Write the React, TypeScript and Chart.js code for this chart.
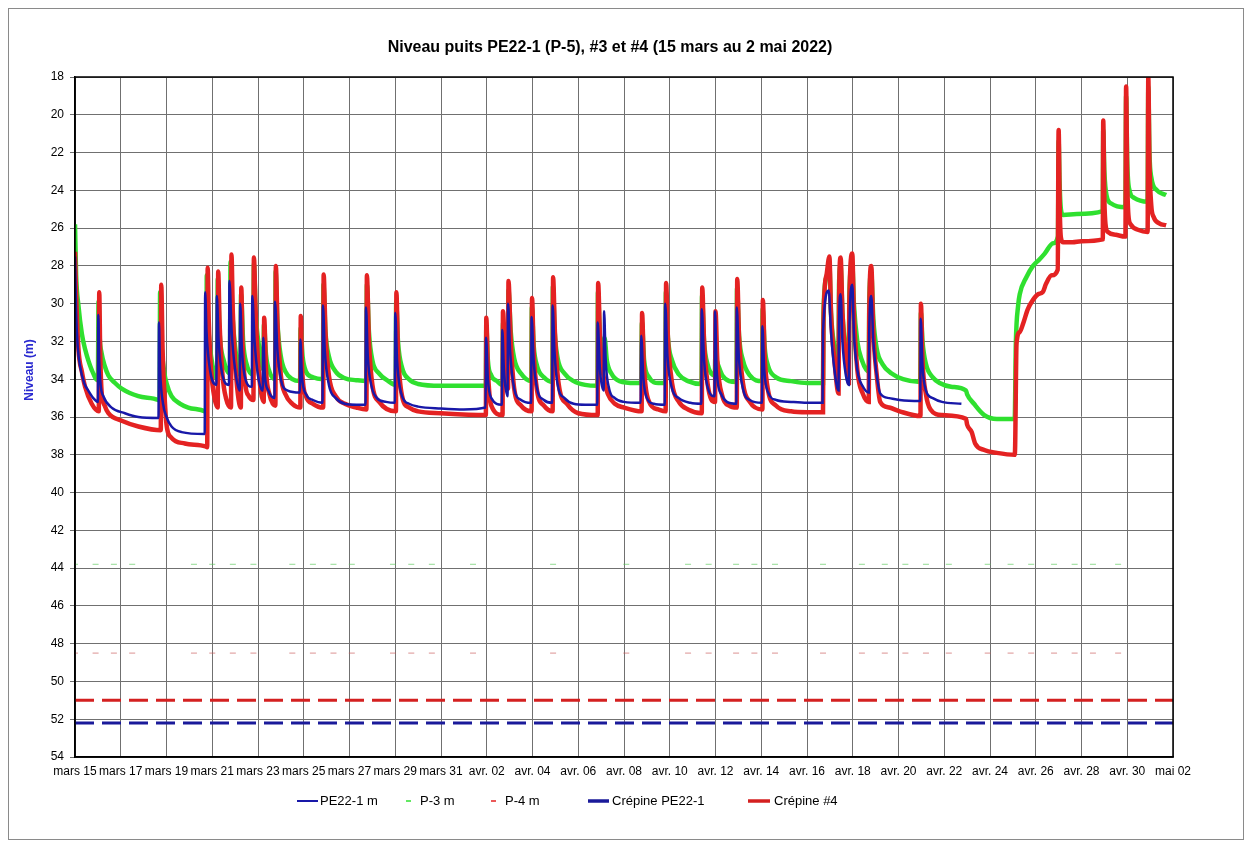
import React, { useEffect, useRef } from "react";
import { Chart, registerables } from "chart.js";

Chart.register(...registerables);

const TITLE = "Niveau puits PE22-1 (P-5), #3 et #4 (15 mars au 2 mai 2022)";
const Y_TITLE = "Niveau (m)";

// x = days since 15 March 2022 00:00
const X_TICK_LABELS = [
  "mars 15", "mars 17", "mars 19", "mars 21", "mars 23", "mars 25", "mars 27", "mars 29", "mars 31",
  "avr. 02", "avr. 04", "avr. 06", "avr. 08", "avr. 10", "avr. 12", "avr. 14", "avr. 16", "avr. 18",
  "avr. 20", "avr. 22", "avr. 24", "avr. 26", "avr. 28", "avr. 30", "mai 02",
];

const PE22_1: [number, number][] = [
  [0,27.5],[0.05,30.5],[0.12,32.3],[0.22,33.3],[0.4,34.2],[0.58,34.6],[0.8,35.0],[1.0,35.2],
  [1.02,30.6],[1.06,33.0],[1.12,34.3],[1.24,34.9],[1.6,35.5],[2.18,35.8],[2.77,36.0],[3.65,36.05],
  [3.67,31.0],[3.72,33.5],[3.85,35.3],[4.0,36.0],[4.22,36.5],[4.66,36.8],[5.67,36.9],
  [5.69,29.4],[5.75,31.5],[5.9,33.5],[6.18,34.3],
  [6.2,29.6],[6.28,32.0],[6.45,33.8],[6.73,34.3],
  [6.75,28.8],[6.85,31.5],[7.0,33.5],[7.2,34.6],
  [7.22,30.0],[7.3,32.5],[7.45,34.0],[7.73,34.4],
  [7.75,29.6],[7.85,32.0],[8.0,33.8],[8.21,34.6],
  [8.23,31.8],[8.3,33.8],[8.45,34.6],[8.72,35.0],
  [8.74,29.9],[8.85,32.5],[9.0,34.0],[9.3,34.6],[9.83,34.7],
  [9.85,31.9],[9.92,33.8],[10.1,34.8],[10.4,35.1],[10.82,35.25],
  [10.84,30.1],[10.92,32.5],[11.1,34.3],[11.4,35.0],[11.8,35.3],[12.3,35.35],[12.7,35.35],
  [12.72,30.2],[12.8,32.8],[12.95,34.3],[13.2,35.0],[13.6,35.2],[13.98,35.25],
  [14.0,30.5],[14.08,33.0],[14.3,34.9],[14.6,35.3],[15.0,35.45],[16.0,35.55],[17.0,35.6],[17.95,35.5],
  [17.97,31.8],[18.05,34.0],[18.2,35.0],[18.66,35.35],
  [18.68,31.4],[18.75,33.5],[18.91,34.9],
  [18.93,30.0],[19.02,32.5],[19.2,34.5],[19.5,35.1],[19.94,35.25],
  [19.96,30.7],[20.05,33.0],[20.2,34.5],[20.5,35.1],[20.86,35.25],
  [20.88,30.1],[20.96,32.5],[21.1,34.3],[21.4,35.0],[21.8,35.3],[22.3,35.35],[22.83,35.35],
  [22.85,31.0],[22.95,33.5],[23.11,34.6],
  [23.13,30.4],[23.2,33.0],[23.35,34.5],[23.6,35.0],[24.0,35.2],[24.73,35.25],
  [24.75,31.7],[24.85,34.0],[25.0,35.0],[25.3,35.3],[25.78,35.35],
  [25.8,30.0],[25.9,32.8],[26.1,34.5],[26.4,35.0],[26.9,35.25],[27.38,35.3],
  [27.4,30.3],[27.5,33.0],[27.7,34.6],[27.96,34.9],
  [27.98,30.4],[28.05,33.5],[28.25,34.8],[28.5,35.2],[28.91,35.3],
  [28.93,30.2],[29.02,32.8],[29.2,34.5],[29.5,35.1],[30.03,35.25],
  [30.05,31.2],[30.13,33.5],[30.3,34.7],[30.65,35.1],[31.3,35.2],[32.0,35.25],[32.68,35.25],
  [32.7,31.5],[32.95,29.3],[33.05,31.5],[33.2,33.5],[33.38,34.6],
  [33.4,31.0],[33.47,29.5],[33.55,32.0],[33.7,33.8],[33.83,34.3],
  [33.85,31.5],[33.98,29.0],[34.05,31.5],[34.2,33.5],[34.45,34.4],[34.7,34.7],
  [34.72,31.5],[34.81,29.6],[34.9,32.0],[35.05,33.8],[35.2,34.75],[35.6,35.0],[36.05,35.1],[36.95,35.15],
  [36.97,30.8],[37.05,33.3],[37.2,34.6],[37.5,35.0],[37.9,35.2],[38.75,35.3],
];

const P3: [number, number][] = [
  [0,25.8],[0.05,28.5],[0.15,30.1],[0.3,31.6],[0.44,32.4],[0.73,33.5],[1.0,34.05],
  [1.03,29.9],[1.08,31.8],[1.16,32.6],[1.3,33.3],[1.46,33.8],[1.75,34.2],[2.04,34.5],[2.77,34.9],[3.64,35.1],[3.7,35.15],
  [3.72,29.4],[3.78,32.0],[3.9,33.6],[4.0,34.2],[4.22,34.9],[4.6,35.3],[4.95,35.5],[5.68,35.7],[5.74,35.75],
  [5.76,28.5],[5.82,31.0],[5.95,32.8],[6.1,33.7],[6.22,34.0],
  [6.24,28.7],[6.32,31.5],[6.5,33.0],[6.77,33.7],
  [6.8,27.8],[6.88,30.5],[7.0,32.3],[7.23,33.8],
  [7.26,29.5],[7.35,32.0],[7.5,33.2],[7.79,33.75],
  [7.82,27.9],[7.9,30.5],[8.05,32.3],[8.24,33.5],
  [8.26,31.1],[8.35,32.7],[8.5,33.6],[8.75,34.0],
  [8.77,28.3],[8.85,31.0],[9.0,32.8],[9.2,33.6],[9.5,34.0],[9.84,34.1],
  [9.86,31.3],[9.95,32.8],[10.1,33.6],[10.4,33.9],[10.84,34.0],
  [10.86,29.0],[10.95,31.5],[11.1,32.8],[11.4,33.6],[11.8,33.95],[12.3,34.05],[12.74,34.1],
  [12.76,29.0],[12.85,31.5],[13.0,33.0],[13.3,33.7],[13.7,34.1],[14.02,34.3],
  [14.04,29.9],[14.12,32.0],[14.3,33.4],[14.6,34.0],[15.0,34.25],[16.0,34.35],[17.0,34.35],[17.96,34.35],
  [17.98,31.2],[18.05,33.0],[18.2,33.8],[18.45,34.1],[18.69,34.3],
  [18.71,31.0],[18.8,32.8],[18.93,33.5],
  [18.95,29.3],[19.05,31.5],[19.2,32.9],[19.5,33.7],[19.95,34.1],
  [19.97,30.2],[20.05,32.2],[20.2,33.3],[20.5,33.9],[20.87,34.15],
  [20.89,29.1],[20.97,31.5],[21.1,32.9],[21.4,33.7],[21.8,34.1],[22.3,34.3],[22.84,34.35],
  [22.86,29.4],[22.95,31.8],[23.12,32.9],[23.15,31.8],[23.25,33.0],[23.45,33.7],[23.8,34.1],[24.5,34.2],[24.76,34.2],
  [24.78,31.0],[24.88,33.0],[25.1,33.9],[25.5,34.2],[25.81,34.2],
  [25.83,29.4],[25.92,31.8],[26.1,33.0],[26.4,33.75],[26.8,34.1],[27.39,34.25],
  [27.41,29.6],[27.5,32.0],[27.65,33.2],[27.97,33.8],
  [27.99,32.8],[28.1,33.2],[28.3,33.8],[28.6,34.1],[28.92,34.15],
  [28.94,29.2],[29.03,31.7],[29.2,33.0],[29.5,33.8],[30.04,34.1],
  [30.06,30.3],[30.15,32.3],[30.3,33.3],[30.65,33.9],[31.3,34.1],[32.0,34.2],[32.7,34.2],
  [32.72,30.5],[32.85,28.6],[32.98,28.0],[33.05,30.5],[33.2,32.3],[33.38,33.3],
  [33.4,29.0],[33.47,28.0],[33.55,30.5],[33.7,32.4],[33.83,32.8],
  [33.85,29.5],[33.98,27.9],[34.05,30.0],[34.2,32.0],[34.4,33.0],[34.7,33.6],
  [34.72,30.0],[34.81,28.4],[34.9,30.8],[35.05,32.4],[35.3,33.2],[35.7,33.7],[36.2,34.0],[36.95,34.15],
  [36.98,30.5],[37.05,32.0],[37.2,33.2],[37.5,33.9],[37.8,34.2],[38.3,34.4],[38.95,34.6],
  [39.0,34.8],[39.3,35.3],[39.75,35.9],[40.3,36.1],[41.08,36.1],
  [41.13,32.1],[41.23,30.1],[41.3,29.5],[41.59,28.6],[41.88,28.0],[42.17,27.65],[42.39,27.35],[42.76,26.8],[42.97,26.45],
  [43.0,21.4],[43.04,23.5],[43.1,25.0],[43.2,25.3],[43.8,25.25],[44.93,25.1],
  [44.95,20.8],[45.0,23.0],[45.1,24.3],[45.3,24.7],[45.92,24.9],
  [45.95,19.0],[46.0,22.5],[46.1,24.0],[46.3,24.4],[46.89,24.6],
  [46.92,18.5],[46.97,22.0],[47.05,23.3],[47.3,24.0],[47.7,24.25],
];

const P4: [number, number][] = [
  [0,27.25],[0.05,29.5],[0.15,32.4],[0.3,33.6],[0.44,34.4],[0.73,35.3],[1.04,35.7],
  [1.06,29.4],[1.1,32.5],[1.16,34.6],[1.3,35.4],[1.46,35.8],[2.04,36.2],[2.77,36.5],[3.75,36.7],
  [3.77,29.0],[3.83,32.5],[3.92,35.0],[4.0,36.4],[4.22,37.1],[4.8,37.4],[5.7,37.55],[5.78,37.6],
  [5.8,28.1],[5.85,31.0],[5.95,33.5],[6.1,35.0],[6.24,35.5],
  [6.26,28.3],[6.32,31.0],[6.45,33.8],[6.6,35.0],[6.82,35.5],
  [6.84,27.4],[6.9,30.5],[7.0,33.0],[7.12,34.8],[7.25,35.5],
  [7.27,29.15],[7.32,32.0],[7.45,34.3],[7.6,34.9],[7.8,35.1],
  [7.82,27.55],[7.9,30.5],[8.0,33.0],[8.12,34.6],[8.25,35.2],
  [8.27,30.75],[8.35,33.5],[8.5,34.8],[8.76,35.4],
  [8.78,28.0],[8.85,31.0],[9.0,33.8],[9.2,34.8],[9.5,35.3],[9.85,35.5],
  [9.87,30.65],[9.93,33.5],[10.1,34.9],[10.4,35.3],[10.85,35.5],
  [10.87,28.45],[10.95,31.5],[11.1,33.8],[11.4,34.9],[11.8,35.3],[12.3,35.5],[12.74,35.6],
  [12.76,28.5],[12.85,32.0],[13.0,34.3],[13.3,35.2],[14.03,35.7],
  [14.05,29.4],[14.12,32.5],[14.3,34.9],[14.6,35.5],[15.0,35.7],[16.0,35.8],[17.96,35.9],
  [17.98,30.75],[18.05,33.5],[18.2,35.4],[18.69,35.9],
  [18.71,30.4],[18.8,33.0],[18.93,34.5],
  [18.95,28.8],[19.05,32.0],[19.2,34.5],[19.5,35.4],[19.96,35.7],
  [19.98,29.7],[20.05,32.5],[20.2,34.6],[20.5,35.4],[20.88,35.7],
  [20.9,28.6],[20.98,31.5],[21.15,34.3],[21.5,35.3],[22.0,35.8],[22.85,35.9],
  [22.87,28.9],[22.95,31.8],[23.1,33.8],[23.3,34.8],[23.6,35.3],[24.0,35.5],[24.77,35.7],
  [24.79,30.5],[24.87,33.3],[25.1,35.2],[25.5,35.6],[25.82,35.7],
  [25.84,28.9],[25.92,31.8],[26.1,34.2],[26.4,35.2],[26.8,35.6],[27.4,35.8],
  [27.42,29.15],[27.5,32.0],[27.65,34.2],[27.98,35.2],
  [28.0,30.4],[28.08,33.0],[28.3,34.9],[28.6,35.4],[28.93,35.5],
  [28.95,28.7],[29.03,31.8],[29.2,34.2],[29.5,35.2],[30.05,35.6],
  [30.07,29.8],[30.15,32.8],[30.3,34.6],[30.65,35.4],[31.3,35.7],[32.0,35.75],[32.7,35.75],
  [32.72,31.0],[32.85,28.5],[32.98,27.5],[33.05,30.5],[33.2,33.0],[33.38,34.75],
  [33.4,30.0],[33.47,27.55],[33.55,30.5],[33.7,33.0],[33.83,34.2],
  [33.85,30.0],[33.98,27.35],[34.05,30.5],[34.2,33.5],[34.45,34.8],[34.7,35.2],
  [34.72,30.5],[34.81,28.0],[34.9,31.5],[35.05,33.8],[35.2,35.2],[35.6,35.5],[36.05,35.7],[36.96,35.95],
  [36.98,30.0],[37.05,33.0],[37.2,34.8],[37.4,35.6],[37.9,35.9],[38.95,36.1],
  [39.0,36.4],[39.2,36.8],[39.35,37.4],[39.75,37.75],[40.3,37.9],[41.08,38.0],
  [41.1,37.5],[41.16,32.1],[41.3,31.5],[41.45,31.05],[41.65,30.3],[41.88,29.8],[42.1,29.5],[42.3,29.4],[42.45,28.95],[42.7,28.5],[42.96,28.2],
  [43.0,20.8],[43.05,25.0],[43.1,26.5],[43.2,26.75],[43.6,26.75],[44.0,26.7],[44.93,26.6],
  [44.95,20.3],[45.0,24.5],[45.05,25.8],[45.15,26.2],[45.5,26.35],[45.92,26.45],
  [45.95,18.5],[46.0,23.5],[46.05,25.3],[46.15,25.8],[46.5,26.1],[46.89,26.2],
  [46.92,18.0],[46.97,22.5],[47.05,24.8],[47.15,25.4],[47.4,25.75],[47.7,25.85],
];

const CREPINE_PE22_1: [number, number][] = [[0, 52.2], [48, 52.2]];
const CREPINE_4: [number, number][] = [[0, 51.0], [48, 51.0]];

// isolated stray readings
const STRAY_DAYS = [
  0, 0.9, 1.7, 2.5, 5.2, 6.0, 6.9, 7.8, 9.5, 10.4, 11.3, 12.1, 13.9, 14.7, 15.6, 17.4, 20.9,
  24.1, 26.8, 27.7, 28.9, 29.7, 30.6, 32.7, 34.4, 35.4, 36.3, 37.2, 38.2, 39.9, 40.9, 41.8, 42.8, 43.7, 44.5, 45.6,
];
const P3_STRAY_LEVEL = 43.8;
const P4_STRAY_LEVEL = 48.5;

const FONT = '"Liberation Sans", Arial, sans-serif';

const BLUE = "#1818a8";
const GREEN = "#2fe02f";
const RED = "#e42222";

const toXY = (arr: [number, number][]) => arr.map(([x, y]) => ({ x, y }));

const overlayPlugin = {
  id: "overlay",
  afterDraw(chart: any) {
    const ctx = chart.ctx as CanvasRenderingContext2D;
    const a = chart.chartArea;
    ctx.save();
    // frame
    ctx.strokeStyle = "#000";
    ctx.lineWidth = 1.5;
    ctx.strokeRect(a.left, a.top, a.right - a.left, a.bottom - a.top);

    // title
    ctx.fillStyle = "#000";
    ctx.font = `bold 16px ${FONT}`;
    ctx.textAlign = "center";
    ctx.textBaseline = "middle";
    ctx.fillText(TITLE, 601, 39);

    // y title
    ctx.save();
    ctx.translate(21, 361);
    ctx.rotate(-Math.PI / 2);
    ctx.font = `bold 12px ${FONT}`;
    ctx.fillStyle = "#2a2ad0";
    ctx.fillText(Y_TITLE, 0, 0);
    ctx.restore();

    // legend
    const ly = 792;
    ctx.font = `13px ${FONT}`;
    ctx.textAlign = "left";
    ctx.textBaseline = "middle";
    const items = [
      { label: "PE22-1 m", color: BLUE, kind: "line", w: 2, x0: 288, x1: 309, tx: 311 },
      { label: "P-3 m", color: GREEN, kind: "dash", w: 1.5, x0: 397, x1: 402, tx: 411 },
      { label: "P-4 m", color: RED, kind: "dash", w: 1.5, x0: 482, x1: 487, tx: 496 },
      { label: "Crépine PE22-1", color: "#1a1a9a", kind: "line", w: 3.5, x0: 579, x1: 600, tx: 603 },
      { label: "Crépine #4", color: "#d42020", kind: "line", w: 3.5, x0: 739, x1: 761, tx: 765 },
    ];
    for (const it of items) {
      ctx.strokeStyle = it.color;
      ctx.lineWidth = it.w;
      ctx.beginPath();
      ctx.moveTo(it.x0, ly);
      ctx.lineTo(it.x1, ly);
      ctx.stroke();
      ctx.fillStyle = "#000";
      ctx.fillText(it.label, it.tx, ly);
    }
    ctx.restore();
  },
};

export default function App() {
  const ref = useRef<HTMLCanvasElement | null>(null);

  useEffect(() => {
    if (!ref.current) return;
    const chart = new Chart(ref.current, {
      type: "line",
      data: {
        datasets: [
          {
            label: "PE22-1 m",
            data: toXY(PE22_1),
            borderColor: BLUE,
            borderWidth: 2.5,
            pointRadius: 0,
            cubicInterpolationMode: "monotone",
          },
          {
            label: "P-4 m",
            data: toXY(P4),
            borderColor: RED,
            borderWidth: 4.5,
            pointRadius: 0,
            cubicInterpolationMode: "monotone",
          },
          {
            label: "P-3 m",
            data: toXY(P3),
            borderColor: GREEN,
            borderWidth: 4.5,
            pointRadius: 0,
            cubicInterpolationMode: "monotone",
          },
          {
            label: "Crépine PE22-1",
            data: toXY(CREPINE_PE22_1),
            borderColor: "#1a1a9a",
            borderWidth: 3,
            borderDash: [19, 8],
            pointRadius: 0,
          },
          {
            label: "Crépine #4",
            data: toXY(CREPINE_4),
            borderColor: "#d42020",
            borderWidth: 3,
            borderDash: [19, 8],
            pointRadius: 0,
          },
          {
            label: "P-3 stray",
            data: STRAY_DAYS.map((d) => ({ x: d, y: P3_STRAY_LEVEL })),
            showLine: false,
            pointStyle: "line",
            pointRadius: 3,
            pointBorderWidth: 1.2,
            pointBorderColor: "rgba(90,200,90,0.55)",
            borderColor: "rgba(90,200,90,0.55)",
          },
          {
            label: "P-4 stray",
            data: STRAY_DAYS.map((d) => ({ x: d, y: P4_STRAY_LEVEL })),
            showLine: false,
            pointStyle: "line",
            pointRadius: 3,
            pointBorderWidth: 1.2,
            pointBorderColor: "rgba(200,90,90,0.55)",
            borderColor: "rgba(200,90,90,0.55)",
          },
        ] as any,
      },
      options: {
        animation: false,
        responsive: false,
        devicePixelRatio: 1,
        events: [],
        layout: { padding: { left: 0, right: 70, top: 68, bottom: 58 } },
        plugins: {
          legend: { display: false },
          title: { display: false },
          tooltip: { enabled: false },
        },
        scales: {
          x: {
            type: "linear",
            min: 0,
            max: 48,
            ticks: {
              stepSize: 2,
              autoSkip: false,
              maxRotation: 0,
              minRotation: 0,
              padding: 7,
              color: "#000",
              font: { family: FONT, size: 12 },
              callback: (v: any) => X_TICK_LABELS[Math.round(Number(v) / 2)] ?? "",
            },
            grid: { color: "#707070", lineWidth: 1, drawTicks: false },
            border: { color: "#000", width: 1.5 },
            afterFit: (s: any) => {
              s.height = 24;
            },
          },
          y: {
            type: "linear",
            reverse: true,
            min: 18,
            max: 54,
            ticks: {
              stepSize: 2,
              padding: 6,
              color: "#000",
              font: { family: FONT, size: 12 },
            },
            grid: { color: "#707070", lineWidth: 1, tickLength: 5 },
            border: { color: "#000", width: 1.5 },
            afterFit: (s: any) => {
              s.width = 66;
            },
          },
        },
      } as any,
      plugins: [overlayPlugin],
    });
    return () => chart.destroy();
  }, []);

  return (
    <div
      style={{
        width: 1236,
        height: 832,
        border: "1px solid #8a8a8a",
        boxSizing: "border-box",
        position: "relative",
        background: "#fff",
      }}
    >
      <canvas
        ref={ref}
        width={1234}
        height={830}
        style={{ position: "absolute", left: 0, top: 0, width: 1234, height: 830 }}
      />
    </div>
  );
}
